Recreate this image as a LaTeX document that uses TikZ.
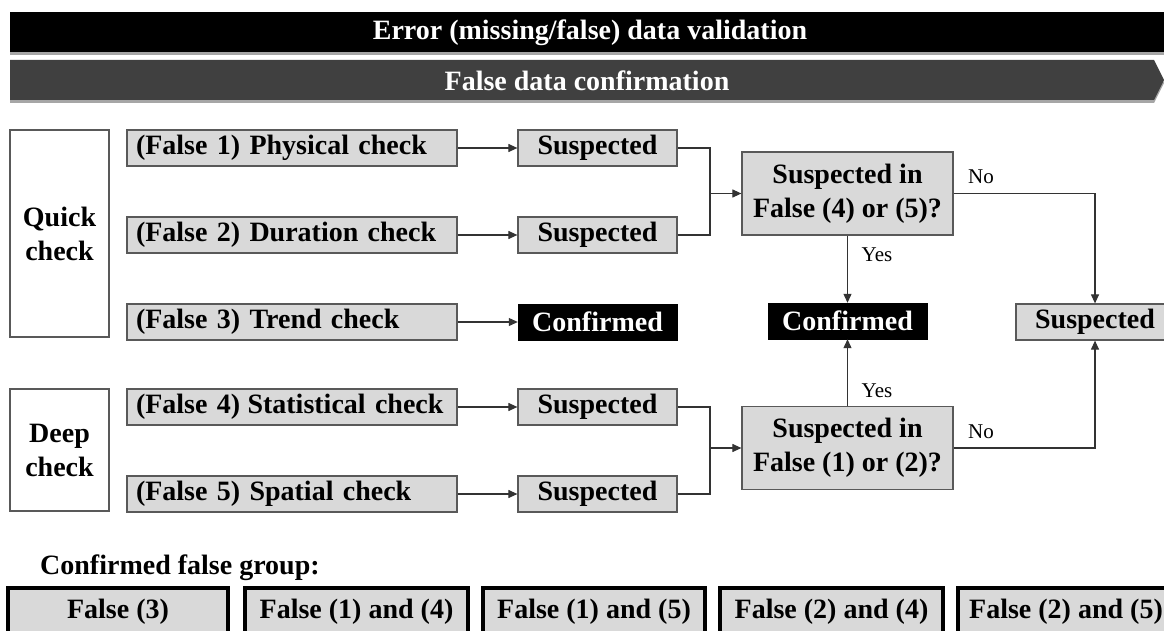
\documentclass[tikz,border=0pt]{standalone}
\usepackage{fontspec}
\setmainfont{Liberation Serif}
\usetikzlibrary{arrows.meta,shadows}
\newcommand\sx[1]{#1}
\definecolor{boxgray}{HTML}{D9D9D9}
\definecolor{edgegray}{HTML}{595959}
\definecolor{bannergray}{HTML}{404040}
\begin{document}
\begin{tikzpicture}[x=1pt,y=-1pt,
  bigfont/.style={font=\fontsize{28}{34}\selectfont\bfseries},
  smallfont/.style={font=\fontsize{21}{24}\selectfont},
  checkbox/.style={draw=edgegray, fill=boxgray, line width=1.2pt, minimum height=36pt,
    text width=312pt, inner xsep=9pt, inner ysep=0pt, align=left, bigfont},
  suspbox/.style={draw=edgegray, fill=boxgray, line width=1.2pt, minimum height=36pt,
    minimum width=159pt, inner sep=0pt, bigfont},
  confbox/.style={draw=black, fill=black, text=white, minimum height=36pt,
    minimum width=159pt, inner sep=0pt, bigfont},
  decbox/.style={draw=edgegray, fill=boxgray, line width=1.2pt, minimum width=211pt,
    minimum height=83pt, inner sep=0pt, align=center, bigfont},
  sidebox/.style={draw=edgegray, fill=white, line width=1.2pt, minimum width=99pt,
    inner sep=0pt, align=center, bigfont},
  grpbox/.style={draw=black, line width=3.3pt, fill=boxgray, minimum height=48pt,
    inner sep=0pt, bigfont},
  lbl/.style={smallfont, inner sep=0pt},
  conn/.style={line width=1.1pt, draw=black!80},
  arr/.style={conn, -{Triangle[length=9pt,width=8pt]}},
  shad/.style={drop shadow={shadow xshift=0pt, shadow yshift=-3pt, opacity=0.35, fill=black}}
]
\useasboundingbox (0,0) rectangle (1164,631);

% banners
\node[fill=black, minimum width=1160pt, minimum height=40pt, inner sep=0pt, shad] (b1) at (590,32) {};
\node[bigfont, text=white, inner sep=0pt] (b1t) at (590,33) {\sx{Error (missing/false) data validation}};
\fill[bannergray, shad] (10,60) -- (1154,60) -- (1164,80) -- (1154,100) -- (10,100) -- cycle;
\node[bigfont, text=white, inner sep=0pt] (b2t) at (587,81) {\sx{False data confirmation}};

% side boxes
\node[sidebox, minimum height=207pt] (qc) at (59.5,233.5) {\sx{Quick}\\\sx{check}};
\node[sidebox, minimum height=122pt] (dc) at (59.5,450) {\sx{Deep}\\\sx{check}};

% check boxes
\node[checkbox] (c1) at (292,148) {\sx{(False 1) Physical check}};
\node[checkbox] (c2) at (292,235) {\sx{(False 2) Duration check}};
\node[checkbox] (c3) at (292,322) {\sx{(False 3) Trend check}};
\node[checkbox] (c4) at (292,407) {\sx{(False 4)\hspace{-2pt} Statistical check}};
\node[checkbox] (c5) at (292,494) {\sx{(False 5) Spatial check}};

% results
\node[suspbox] (s1) at (597.5,148) {\sx{Suspected}};
\node[suspbox] (s2) at (597.5,235) {\sx{Suspected}};
\node[confbox] (s3) at (597.5,322) {\sx{Confirmed}};
\node[suspbox] (s4) at (597.5,407) {\sx{Suspected}};
\node[suspbox] (s5) at (597.5,494) {\sx{Suspected}};

\foreach \i in {1,...,5} {\draw[arr] (c\i.east) -- (s\i.west);}

% decisions
\node[decbox] (d1) at (847.5,193.5) {\sx{Suspected in}\\\sx{False (4) or (5)?}};
\node[decbox] (d2) at (847.5,448) {\sx{Suspected in}\\\sx{False (1) or (2)?}};
\node[confbox] (cm) at (847.5,321) {\sx{Confirmed}};
\node[suspbox, minimum width=158pt] (sr) at (1095,322) {\sx{Suspected}};

\coordinate (j1) at (710,193.5);
\coordinate (j2) at (710,448);
\draw[conn] (s1.east) -| (j1);
\draw[conn] (s2.east) -| (j1);
\draw[arr] (j1) -- (d1.west);
\draw[conn] (s4.east) -| (j2);
\draw[conn] (s5.east) -| (j2);
\draw[arr] (j2) -- (d2.west);

\draw[arr] (d1.south) -- (cm.north);
\draw[arr] (d2.north) -- (cm.south);
\draw[arr] (d1.east) -| (sr.north);
\draw[arr] (d2.east) -| (sr.south);

\node[lbl] (y1) at (877,255) {\sx{Yes}};
\node[lbl] (y2) at (877,391) {\sx{Yes}};
\node[lbl] (n1) at (981,177) {\sx{No}};
\node[lbl] (n2) at (981,432) {\sx{No}};

% confirmed false group
\node[bigfont, anchor=west, inner sep=0pt] (cfg) at (40,568) {\sx{Confirmed false group:}};
\node[grpbox, minimum width=220pt] (g1) at (118,612) {\sx{False (3)}};
\node[grpbox, minimum width=223pt] (g2) at (356.5,612) {\sx{False (1) and (4)}};
\node[grpbox, minimum width=222pt] (g3) at (594,612) {\sx{False (1) and (5)}};
\node[grpbox, minimum width=223pt] (g4) at (831.5,612) {\sx{False (2) and (4)}};
\node[grpbox, minimum width=216pt] (g5) at (1066,612) {\sx{False (2) and (5)}};
\end{tikzpicture}
\end{document}
